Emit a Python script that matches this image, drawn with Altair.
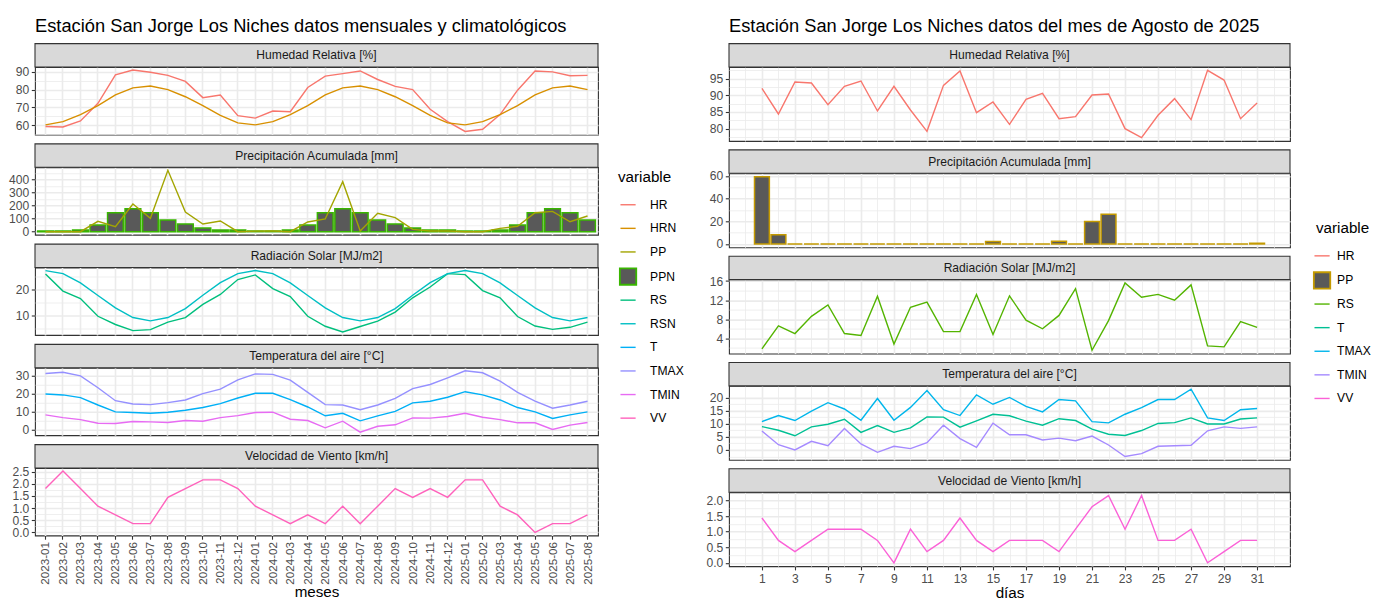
import json
import altair as alt
import pandas as pd

FONT = "Liberation Sans"
GRID = "#EBEBEB"
DARK = "#333333"
BARFILL = "#595959"

# ---------------- left: monthly data ----------------
months = ["2023-01", "2023-02", "2023-03", "2023-04", "2023-05", "2023-06", "2023-07", "2023-08",
          "2023-09", "2023-10", "2023-11", "2023-12", "2024-01", "2024-02", "2024-03", "2024-04",
          "2024-05", "2024-06", "2024-07", "2024-08", "2024-09", "2024-10", "2024-11", "2024-12",
          "2025-01", "2025-02", "2025-03", "2025-04", "2025-05", "2025-06", "2025-07", "2025-08"]
HR_m = [59.3, 59.0, 62.4, 72.3, 88.3, 91.0, 89.8, 88.0, 84.6, 75.5, 77.0, 65.4,
        64.0, 68.0, 67.6, 81.2, 87.6, 89.0, 90.5, 85.7, 81.8, 80.0, 69.0, 62.0,
        56.5, 57.7, 66.0, 79.7, 90.5, 90.0, 87.8, 88.0]
HRN_m = [60.2, 62.0, 66.0, 71.0, 77.0, 81.0, 82.0, 80.0, 76.0, 71.0, 65.5, 61.3,
         60.2, 62.0, 66.0, 71.0, 77.0, 81.0, 82.0, 80.0, 76.0, 71.0, 65.5, 61.3,
         60.2, 62.0, 66.0, 71.0, 77.0, 81.0, 82.0, 80.0]
PP_m = [0, 0, 0, 79, 38, 211, 102, 469, 150, 59, 82, 0,
        4, 5, 0, 74, 97, 382, 5, 140, 107, 18, 5, 5,
        0, 0, 25, 41, 145, 155, 76, 120]
PPN_m = [5, 5, 13, 51, 145, 176, 145, 89, 59, 28, 13, 13,
         5, 5, 13, 51, 145, 176, 145, 89, 59, 28, 13, 13,
         5, 5, 13, 51, 145, 176, 145, 89]
RS_m = [26.1, 19.4, 16.5, 9.6, 6.4, 4.0, 4.4, 7.3, 9.1, 14.2, 18.1, 23.9,
        25.7, 20.4, 17.3, 9.6, 5.7, 3.5, 5.6, 7.7, 11.2, 16.8, 21.0, 26.2,
        25.8, 19.6, 16.8, 9.5, 5.8, 4.5, 5.3, 7.3]
RSN_m = [27.4, 26.2, 22.6, 17.7, 12.9, 9.1, 7.8, 9.1, 12.6, 17.8, 22.7, 26.2,
         27.4, 26.2, 22.6, 17.7, 12.9, 9.1, 7.8, 9.1, 12.6, 17.8, 22.7, 26.2,
         27.4, 26.2, 22.6, 17.7, 12.9, 9.1, 7.8, 9.1]
T_m = [19.7, 19.2, 17.7, 13.6, 9.8, 9.4, 9.0, 9.6, 10.7, 12.2, 14.4, 17.5,
       20.1, 20.1, 16.6, 12.5, 7.6, 9.0, 4.8, 7.6, 10.1, 14.8, 15.7, 17.9,
       21.0, 19.2, 16.4, 12.2, 9.8, 6.1, 8.1, 9.8]
TMAX_m = [31.1, 31.8, 29.8, 23.2, 16.0, 14.2, 13.8, 14.9, 16.4, 19.9, 22.4, 27.6,
          30.9, 30.6, 27.4, 20.6, 13.8, 13.6, 11.0, 13.6, 17.3, 22.7, 25.0, 28.7,
          32.6, 31.5, 26.9, 20.6, 15.7, 11.8, 13.6, 15.7]
TMIN_m = [8.1, 6.6, 5.5, 3.5, 3.3, 4.4, 4.2, 3.9, 5.0, 4.6, 6.6, 7.7,
          9.4, 9.6, 5.7, 5.0, 0.9, 4.6, -1.5, 1.8, 2.6, 6.4, 6.3, 7.2,
          9.0, 6.8, 5.5, 3.7, 3.7, 0.0, 2.4, 3.9]
VV_m = [1.80, 2.52, 1.80, 1.08, 0.72, 0.36, 0.36, 1.44, 1.80, 2.16, 2.16, 1.80,
        1.08, 0.72, 0.36, 0.72, 0.36, 1.08, 0.36, 1.08, 1.80, 1.44, 1.80, 1.44,
        2.16, 2.16, 1.08, 0.72, 0.00, 0.36, 0.36, 0.72]

# ---------------- right: daily data (August 2025) ----------------
days = list(range(1, 32))
HR_d = [92.1, 84.4, 94.0, 93.7, 87.2, 92.7, 94.3, 85.3, 92.7, 85.6, 79.2, 93.0, 97.3, 84.8, 88.0, 81.3,
        88.8, 90.6, 83.0, 83.6, 90.1, 90.4, 80.0, 77.3, 84.0, 89.0, 82.7, 97.5, 94.6, 83.0, 87.7]
PP_d = [59.4, 8.2, 0, 0, 0, 0, 0, 0, 0, 0, 0, 0, 0, 0, 2.2, 0,
        0, 0, 2.4, 0, 19.8, 26.2, 0, 0, 0, 0, 0, 0, 0, 0, 0.6]
RS_d = [1.8, 6.6, 5.0, 8.6, 11.0, 5.0, 4.6, 12.8, 2.8, 10.5, 11.6, 5.4, 5.4, 13.2, 4.8, 12.9,
        7.8, 6.0, 8.8, 14.4, 1.5, 7.7, 15.6, 12.6, 13.2, 12.0, 15.2, 2.4, 2.2, 7.5, 6.3]
T_d = [8.9, 7.5, 5.4, 8.8, 9.8, 11.7, 6.7, 9.3, 6.7, 8.4, 12.6, 12.5, 8.7, 11.1, 13.6, 13.0,
       11.0, 9.4, 11.9, 11.2, 7.9, 6.0, 5.5, 7.4, 10.1, 10.4, 12.2, 9.9, 9.9, 11.8, 12.2]
TMAX_d = [10.8, 13.1, 11.2, 14.8, 18.0, 15.6, 11.3, 19.6, 11.3, 16.2, 22.6, 15.3, 13.1, 21.0, 17.4, 20.0,
          16.6, 14.5, 19.2, 18.7, 10.8, 10.3, 13.6, 16.1, 19.2, 19.2, 23.1, 12.2, 11.2, 15.3, 15.8]
TMIN_d = [7.2, 2.0, 0.0, 3.3, 1.6, 8.2, 2.3, -0.9, 1.4, 0.5, 2.8, 9.4, 4.3, 1.0, 10.2, 5.8,
          5.8, 3.8, 4.5, 3.5, 5.3, 1.9, -2.5, -1.4, 1.4, 1.6, 1.8, 7.3, 8.8, 8.2, 8.8]
VV_d = [1.44, 0.72, 0.36, 0.72, 1.08, 1.08, 1.08, 0.72, 0.00, 1.08, 0.36, 0.72, 1.44, 0.72, 0.36, 0.72,
        0.72, 0.72, 0.36, 1.08, 1.80, 2.16, 1.08, 2.16, 0.72, 0.72, 1.08, 0.00, 0.36, 0.72, 0.72]

left_vars = ["HR", "HRN", "PP", "PPN", "RS", "RSN", "T", "TMAX", "TMIN", "VV"]
left_colors = ["#F8766D", "#D89000", "#A3A500", "#39B600", "#00BF7D", "#00BFC4",
               "#00B0F6", "#9590FF", "#E76BF3", "#FF62BC"]
right_vars = ["HR", "PP", "RS", "T", "TMAX", "TMIN", "VV"]
right_colors = ["#F8766D", "#C49A00", "#53B400", "#00C094", "#00B6EB", "#A58AFF", "#FB61D7"]

strip_titles = ["Humedad Relativa [%]", "Precipitación Acumulada [mm]", "Radiación Solar [MJ/m2]",
                "Temperatura del aire [°C]", "Velocidad de Viento [km/h]"]

STRIP = 23.4
LW, LH, LSP = 563, 67.5, 32.25
RW, RH, RSP = 561, 74, 32.3
FS_TICK = 12.1
FS_STRIP = 12.1
FS_AXTITLE = 15.2
FS_TITLE = 18.3


def long_df(xname, xs, series):
    rows = []
    for var, vals in series.items():
        for x, v in zip(xs, vals):
            rows.append({xname: x, "variable": var, "value": v})
    return pd.DataFrame(rows, columns=[xname, "variable", "value"])


def y_axis(majors, minors, fmt):
    vals = sorted(majors + minors)
    test = f"indexof({json.dumps(majors)}, datum.value) >= 0"
    return alt.Axis(
        values=vals, title=None, domain=False, labelOverlap=False, labelFlush=False,
        labelExpr=f"{test} ? format(datum.value, '{fmt}') : ''",
        grid=True, gridColor=GRID,
        gridWidth={"condition": {"test": test, "value": 1.6}, "value": 0.8},
        ticks=True, tickColor=DARK, tickSize=3.7, tickWidth=1.1,
        tickOpacity={"condition": {"test": test, "value": 1}, "value": 0},
        labelFont=FONT, labelFontSize=FS_TICK, labelColor="#4D4D4D", labelPadding=2.5)


def x_axis_left(bottom):
    return alt.Axis(
        grid=True, gridColor=GRID, gridWidth=1.6, bandPosition=0.5, domain=False,
        labels=bottom, ticks=bottom, tickSize=3.7, tickColor=DARK, tickWidth=1.1,
        labelAngle=-90, labelFont=FONT, labelFontSize=11.7, labelColor="#4D4D4D",
        labelPadding=2.2, labelOverlap=False,
        title="meses" if bottom else None, titleFont=FONT, titleFontSize=FS_AXTITLE,
        titleFontWeight="normal", titleColor="black", titlePadding=0)


def x_axis_right(bottom):
    test = "datum.value % 2 == 1"
    return alt.Axis(
        values=list(range(0, 33)), grid=True, gridColor=GRID,
        gridWidth={"condition": {"test": test, "value": 1.6}, "value": 0.8},
        domain=False, labels=bottom, ticks=bottom, tickSize=3.7, tickColor=DARK, tickWidth=1.1,
        tickOpacity={"condition": {"test": test, "value": 1}, "value": 0},
        labelExpr=f"{test} ? datum.label : ''", format="d", labelOverlap=False, labelFlush=False,
        labelFont=FONT, labelFontSize=FS_TICK, labelColor="#4D4D4D", labelPadding=2.5,
        title="días" if bottom else None, titleFont=FONT, titleFontSize=FS_AXTITLE,
        titleFontWeight="normal", titleColor="black", titlePadding=1)


LINE_KEY = "M-0.8,-0.8M-0.74,0L0.74,0M0.8,0.8"
BOX_KEY = "M-0.8,-0.8L0.8,-0.8L0.8,0.8L-0.8,0.8Z"


def make_legend(bar_var, lx, ly, sym_offset, label_offset):
    t = f"datum.value === '{bar_var}'"
    return alt.Legend(
        title="variable", orient="none", legendX=lx, legendY=ly, padding=0,
        titleFont=FONT, titleFontSize=FS_AXTITLE, titleFontWeight="normal", titleColor="black",
        titlePadding=14, labelFont=FONT, labelFontSize=FS_TICK, labelColor="black",
        labelOffset=label_offset, symbolSize=420, symbolOffset=sym_offset,
        symbolType=alt.ExprRef(expr=f"{t} ? '{BOX_KEY}' : '{LINE_KEY}'"),
        symbolFillColor=alt.ExprRef(expr=f"{t} ? '{BARFILL}' : 'transparent'"),
        symbolStrokeWidth=alt.ExprRef(expr=f"{t} ? 1.8 : 1.4"),
        rowPadding=0.6)


def panel(side, idx, lines, bar, ymaj, ymin, fmt, legend=None, title=None):
    left = side == "L"
    W, H = (LW, LH) if left else (RW, RH)
    xs = months if left else days
    xname = "mes" if left else "dia"
    bottom = idx == 4
    allv = [v for vals in lines.values() for v in vals]
    if bar is not None:
        allv += list(bar[1]) + [0]
    lo, hi = min(allv), max(allv)
    pad = 0.05 * (hi - lo)
    yscale = alt.Scale(domain=[lo - pad, hi + pad], nice=False, zero=False)
    cscale = alt.Scale(domain=left_vars if left else right_vars,
                       range=left_colors if left else right_colors)
    bar_color = None
    if bar is not None:
        bar_color = (left_colors[left_vars.index(bar[0])] if left else
                     right_colors[right_vars.index(bar[0])])

    if left:
        xscale = alt.Scale(type="band", domain=months, paddingInner=0, paddingOuter=0.1)
        xenc = alt.X("mes:O", scale=xscale, axis=x_axis_left(bottom))
    else:
        b_lo, b_hi = min(days) - 0.45, max(days) + 0.45
        xp = 0.05 * (b_hi - b_lo)
        xscale = alt.Scale(domain=[b_lo - xp, b_hi + xp], nice=False, zero=False)
        xenc = alt.X("dia:Q", scale=xscale, axis=x_axis_right(bottom))

    sdf = pd.DataFrame({"label": [strip_titles[idx]]})
    rect = alt.Chart(sdf).mark_rect(fill="#D9D9D9", stroke=DARK, strokeWidth=1.1).encode(
        x=alt.value(0), x2=alt.value(W), y=alt.value(-STRIP), y2=alt.value(0))
    txt = alt.Chart(sdf).mark_text(font=FONT, fontSize=FS_STRIP, color="#1A1A1A").encode(
        x=alt.value(W / 2), y=alt.value(-STRIP / 2), text="label:N")

    layers = []
    if bar is not None:
        bdf = long_df(xname, xs, {bar[0]: bar[1]})
        if left:
            b = alt.Chart(bdf).mark_bar(fill=BARFILL, stroke=bar_color, strokeWidth=1.5,
                                        width=alt.RelativeBandSize(0.9)).encode(
                x=xenc, y=alt.Y("value:Q", scale=yscale, axis=y_axis(ymaj, ymin, fmt), stack=None),
                y2=alt.datum(0))
        else:
            b = alt.Chart(bdf).transform_calculate(
                x0="datum.dia - 0.45", x1="datum.dia + 0.45").mark_bar(
                fill=BARFILL, stroke=bar_color, strokeWidth=1.5).encode(
                x=alt.X("x0:Q", scale=xscale, axis=x_axis_right(bottom)), x2="x1:Q",
                y=alt.Y("value:Q", scale=yscale, axis=y_axis(ymaj, ymin, fmt), stack=None),
                y2=alt.datum(0))
        layers.append(b)
    if lines or legend is not None:
        ldf = long_df(xname, xs, lines)
        ln = alt.Chart(ldf).mark_line(strokeWidth=1.4).encode(
            x=xenc,
            y=alt.Y("value:Q", scale=yscale, axis=y_axis(ymaj, ymin, fmt)),
            color=alt.Color("variable:N", scale=cscale, legend=legend))
        layers.append(ln)

    ch = alt.layer(*layers, rect, txt).properties(width=W, height=H)
    if title is not None:
        ch = ch.properties(title=alt.TitleParams(
            title, anchor="start", frame="group", font=FONT, fontSize=FS_TITLE,
            fontWeight="normal", color="black", offset=7))
    return ch


L = [
    panel("L", 0, {"HR": HR_m, "HRN": HRN_m}, None, [60, 70, 80, 90], [55, 65, 75, 85], "d",
          title="Estación San Jorge Los Niches datos mensuales y climatológicos"),
    panel("L", 1, {"PP": PP_m}, ("PPN", PPN_m), [0, 100, 200, 300, 400], [50, 150, 250, 350, 450], "d"),
    panel("L", 2, {"RS": RS_m, "RSN": RSN_m}, None, [10, 20], [5, 15, 25], "d",
          legend=make_legend("PPN", 583, -98, 4, 16)),
    panel("L", 3, {"T": T_m, "TMAX": TMAX_m, "TMIN": TMIN_m}, None, [0, 10, 20, 30], [5, 15, 25], "d"),
    panel("L", 4, {"VV": VV_m}, None, [0, 0.5, 1, 1.5, 2, 2.5], [0.25, 0.75, 1.25, 1.75, 2.25], ".1f"),
]
R = [
    panel("R", 0, {"HR": HR_d}, None, [80, 85, 90, 95], [77.5, 82.5, 87.5, 92.5, 97.5], "d",
          title="Estación San Jorge Los Niches datos del mes de Agosto de 2025"),
    panel("R", 1, {}, ("PP", PP_d), [0, 20, 40, 60], [10, 30, 50], "d"),
    panel("R", 2, {"RS": RS_d}, None, [4, 8, 12, 16], [2, 6, 10, 14], "d",
          legend=make_legend("PP", 587, -59, 0, 9)),
    panel("R", 3, {"T": T_d, "TMAX": TMAX_d, "TMIN": TMIN_d}, None, [0, 5, 10, 15, 20],
          [-2.5, 2.5, 7.5, 12.5, 17.5], "d"),
    panel("R", 4, {"VV": VV_d}, None, [0, 0.5, 1, 1.5, 2], [0.25, 0.75, 1.25, 1.75], ".1f"),
]

left_block = alt.vconcat(*L, spacing=LSP, bounds="flush").resolve_scale(
    x="independent", y="independent", color="independent")
right_block = alt.vconcat(*R, spacing=RSP, bounds="flush").resolve_scale(
    x="independent", y="independent", color="independent")

chart = alt.hconcat(left_block, right_block, spacing=20).resolve_scale(
    color="independent").properties(
    padding={"left": 0, "top": 8, "right": 0, "bottom": 0}, background="white"
).configure_view(stroke=DARK, strokeWidth=1.1)

chart.save("out.html", embed_options={"renderer": "svg", "actions": False})
